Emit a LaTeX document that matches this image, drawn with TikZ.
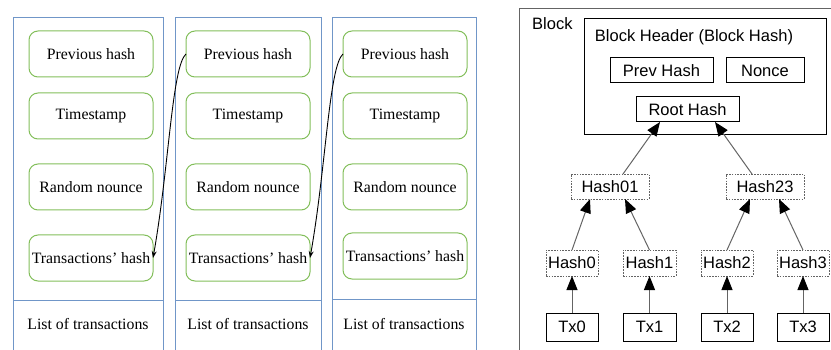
\documentclass[tikz,border=0pt]{standalone}
\usepackage{fontspec}
\setmainfont{Liberation Serif}
\newfontfamily\arialfont{Liberation Sans}
\usetikzlibrary{arrows.meta}
\definecolor{frameblue}{RGB}{112,150,200}
\definecolor{boxgreen}{RGB}{130,190,90}
\definecolor{linegray}{RGB}{100,100,100}
\tikzset{
  colframe/.style={draw=frameblue, line width=1pt, inner sep=0pt, outer sep=0pt, anchor=north west},
  field/.style={draw=boxgreen, line width=1pt, rounded corners=9pt, minimum width=124pt, minimum height=46pt, inner sep=0pt, outer sep=0pt, font=\fontsize{15.8}{18}\selectfont},
  listlbl/.style={font=\fontsize{15.8}{18}\selectfont, inner sep=0pt},
  linkarrow/.style={-{Stealth[length=7pt,width=5pt]}, line width=0.9pt, black},
  sbox/.style={draw=black, line width=1pt, inner sep=0pt, outer sep=0pt, font=\arialfont\fontsize{16.5}{19}\selectfont},
  dbox/.style={draw=linegray, dash pattern=on 1.6pt off 1.2pt, line width=0.9pt, inner sep=0pt, outer sep=0pt, font=\arialfont\fontsize{16.5}{19}\selectfont},
  plain/.style={inner sep=0pt, font=\arialfont\fontsize{16.5}{19}\selectfont},
  tree/.style={draw=linegray, line width=1pt, -{Triangle[length=14pt,width=11pt,color=black,fill=black]}},
}
\begin{document}
\begin{tikzpicture}[x=1pt,y=-1pt]
\useasboundingbox (0,0) rectangle (831,350);
% ---------- left diagram ----------
\node[colframe, minimum width=150pt, minimum height=345pt] (c1) at (13,18) {};
\node[colframe, minimum width=146pt, minimum height=345pt] (c2) at (175,18) {};
\node[colframe, minimum width=144pt, minimum height=345pt] (c3) at (332,18) {};
\coordinate (d1l) at (13,300); \coordinate (d1r) at (163,300);
\coordinate (d2l) at (175,300); \coordinate (d2r) at (321,300);
\coordinate (d3l) at (332,299); \coordinate (d3r) at (476,299);
\draw[frameblue, line width=1pt] (d1l) -- (d1r) (d2l) -- (d2r) (d3l) -- (d3r);

\node[field] (p1) at (91,54) {Previous hash};
\node[field] (s1) at (91,116) {Timestamp};
\node[field] (r1) at (91,187) {Random nounce};
\node[field] (t1) at (91,258) {Transactions' hash};
\node[listlbl] (l1) at (88,324) {List of transactions};

\node[field] (p2) at (248,54) {Previous hash};
\node[field] (s2) at (248,116) {Timestamp};
\node[field] (r2) at (248,187) {Random nounce};
\node[field] (t2) at (248,258) {Transactions' hash};
\node[listlbl] (l2) at (248,324) {List of transactions};

\node[field] (p3) at (405,54) {Previous hash};
\node[field] (s3) at (405,116) {Timestamp};
\node[field] (r3) at (405,187) {Random nounce};
\node[field] (t3) at (405,256) {Transactions' hash};
\node[listlbl] (l3) at (404,324) {List of transactions};

\draw[linkarrow] (p2.west) .. controls +(-14,12) and +(16,-90) .. (t1.east);
\draw[linkarrow] (p3.west) .. controls +(-14,12) and +(16,-90) .. (t2.east);

% ---------- right diagram ----------
\node[draw=linegray, line width=1.1pt, inner sep=0pt, anchor=north west, minimum width=330pt, minimum height=360pt] (block) at (519,8) {};
\node[plain, anchor=west] (blbl) at (532,24) {Block};
\node[sbox, minimum width=242pt, minimum height=116pt] (hdr) at (705,77) {};
\node[plain] (hdrlbl) at (694,37) {Block Header (Block Hash)};
\node[sbox, minimum width=103pt, minimum height=25pt] (prev) at (661.5,70.5) {Prev Hash};
\node[sbox, minimum width=78pt, minimum height=25pt] (nonce) at (765,70.5) {Nonce};
\node[sbox, minimum width=103pt, minimum height=25pt] (root) at (687.5,109.5) {Root Hash};

\node[dbox, minimum width=78pt, minimum height=25pt] (h01) at (610,186.5) {Hash01};
\node[dbox, minimum width=78pt, minimum height=25pt] (h23) at (765,186.5) {Hash23};

\node[dbox, minimum width=52pt, minimum height=26pt] (h0) at (572,263) {Hash0};
\node[dbox, minimum width=53pt, minimum height=26pt] (h1) at (649.5,263) {Hash1};
\node[dbox, minimum width=52pt, minimum height=26pt] (h2) at (727,263) {Hash2};
\node[dbox, minimum width=52pt, minimum height=26pt] (h3) at (803,263) {Hash3};

\node[sbox, minimum width=52pt, minimum height=28pt] (tx0) at (572,327) {Tx0};
\node[sbox, minimum width=53pt, minimum height=28pt] (tx1) at (649.5,327) {Tx1};
\node[sbox, minimum width=52pt, minimum height=28pt] (tx2) at (727,327) {Tx2};
\node[sbox, minimum width=52pt, minimum height=28pt] (tx3) at (803,327) {Tx3};

\draw[tree] (tx0) -- (h0);
\draw[tree] (tx1) -- (h1);
\draw[tree] (tx2) -- (h2);
\draw[tree] (tx3) -- (h3);
\draw[tree] (h0.north) -- (h01.south -| 590,0);
\draw[tree] (h1.north) -- (h01.south -| 625,0);
\draw[tree] (h2.north) -- (h23.south -| 750,0);
\draw[tree] (h3.north) -- (h23.south -| 779,0);
\draw[tree] (h01.north -| 623,0) -- (root.south -| 660,0);
\draw[tree] (h23.north -| 752,0) -- (root.south -| 715,0);
\end{tikzpicture}
\end{document}
